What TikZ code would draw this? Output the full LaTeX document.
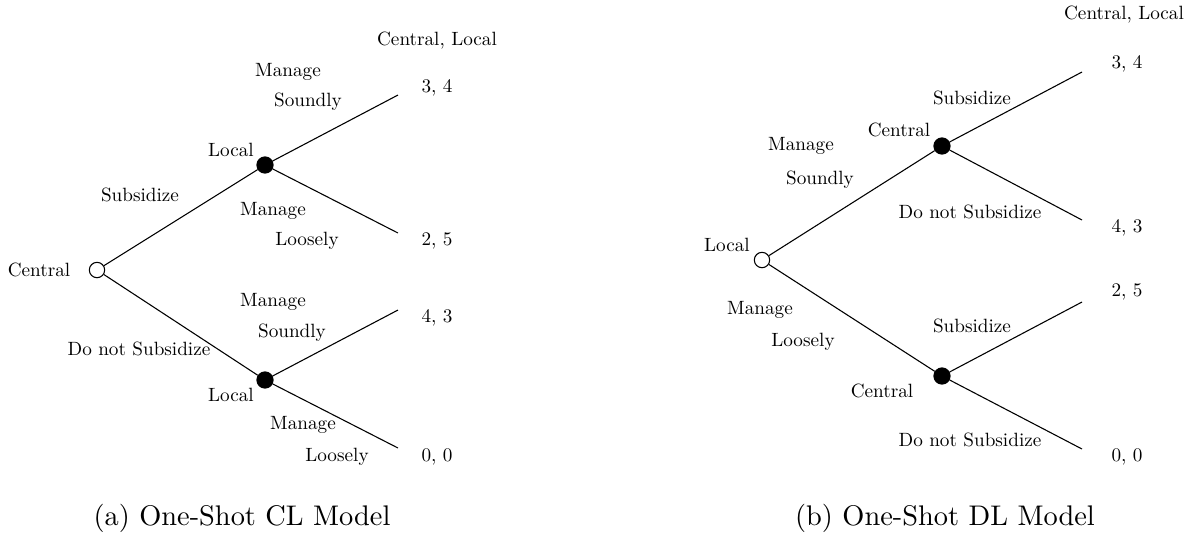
\documentclass[tikz,border=0pt]{standalone}
\usepackage{amsmath,amssymb}
\usepackage{xcolor}
\usepackage{fontspec}
\newfontfamily\lblfont{lmroman10-regular.otf}
\usetikzlibrary{positioning}

\begin{document}
\begin{tikzpicture}[
  x=0.013cm, y=-0.013cm,
  opennode/.style={circle, draw, fill=white, inner sep=0pt, minimum size=0.2cm},
  decnode/.style={circle, draw, fill=black, inner sep=0pt, minimum size=0.21cm},
  lbl/.style={font=\lblfont\fontsize{7.1}{8.5}\selectfont, inner sep=1pt},
  captext/.style={font=\fontsize{10.5}{12}\selectfont}
]
\useasboundingbox (0,0) rectangle (1200,545);

% (a) One-Shot CL Model
\coordinate (a1) at (398,95);
\coordinate (a2) at (398,233);
\coordinate (a3) at (398,310);
\coordinate (a4) at (398,448);
\node[decnode] (aup) at (265,165) {};
\node[decnode] (adn) at (265,380) {};
\node[opennode] (aroot) at (97,270) {};
\draw (aroot) -- (aup);
\draw (aroot) -- (adn);
\draw (aup) -- (a1);
\draw (aup) -- (a2);
\draw (adn) -- (a3);
\draw (adn) -- (a4);

\node[lbl] (ahead) at (437,41) {Central, Local};
\node[lbl] (ap1) at (437,88) {3, 4};
\node[lbl] (ap2) at (437,241) {2, 5};
\node[lbl] (ap3) at (437,318) {4, 3};
\node[lbl] (ap4) at (437,457) {0, 0};
\node[lbl] (arootlbl) at (39,270) {Central};
\node[lbl] (auplbl) at (231,150) {Local};
\node[lbl] (adnlbl) at (231,395) {Local};
\node[lbl] (asub) at (140,195) {Subsidize};
\node[lbl] (anosub) at (139,349) {Do not Subsidize};
\node[lbl] at (288,72) {Manage};
\node[lbl] at (308,102) {Soundly};
\node[lbl] at (273,211) {Manage};
\node[lbl] at (307,241) {Loosely};
\node[lbl] at (273,302) {Manage};
\node[lbl] at (292,333) {Soundly};
\node[lbl] at (303,425) {Manage};
\node[lbl] at (337,457) {Loosely};
\node[captext] (acap) at (242,518) {(a) One-Shot CL Model};

% (b) One-Shot DL Model
\coordinate (b1) at (1082,72);
\coordinate (b2) at (1082,220);
\coordinate (b3) at (1082,302);
\coordinate (b4) at (1082,449);
\node[decnode] (bup) at (942,146) {};
\node[decnode] (bdn) at (942,376) {};
\node[opennode] (broot) at (762,260) {};
\draw (broot) -- (bup);
\draw (broot) -- (bdn);
\draw (bup) -- (b1);
\draw (bup) -- (b2);
\draw (bdn) -- (b3);
\draw (bdn) -- (b4);

\node[lbl] (bhead) at (1124,15) {Central, Local};
\node[lbl] (bp1) at (1127,64) {3, 4};
\node[lbl] (bp2) at (1127,228) {4, 3};
\node[lbl] (bp3) at (1127,292) {2, 5};
\node[lbl] (bp4) at (1127,457) {0, 0};
\node[lbl] (brootlbl) at (727,245) {Local};
\node[lbl] (buplbl) at (899,130) {Central};
\node[lbl] (bdnlbl) at (882,391) {Central};
\node[lbl] at (801,146) {Manage};
\node[lbl] at (820,180) {Soundly};
\node[lbl] at (760,310) {Manage};
\node[lbl] at (803,342) {Loosely};
\node[lbl] at (972,98) {Subsidize};
\node[lbl] at (970,212) {Do not Subsidize};
\node[lbl] at (972,326) {Subsidize};
\node[lbl] at (970,440) {Do not Subsidize};
\node[captext] (bcap) at (945,518) {(b) One-Shot DL Model};
\end{tikzpicture}
\end{document}
